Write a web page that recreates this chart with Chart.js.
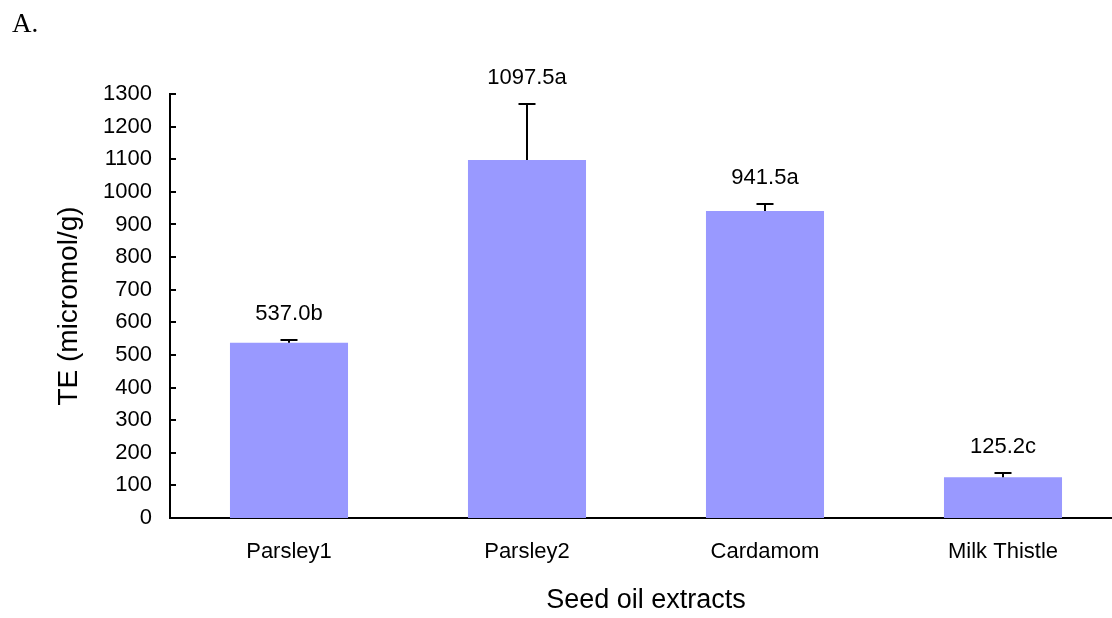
<!DOCTYPE html>
<html>
<head>
<meta charset="utf-8">
<title>TE of seed oil extracts</title>
<script src="https://cdn.jsdelivr.net/npm/chart.js@4/dist/chart.umd.min.js"></script>
<style>
  html, body { margin: 0; padding: 0; background: #fff; overflow: hidden; }
  #wrap { position: relative; width: 1112px; height: 618px; overflow: hidden; }
  #panel { position: absolute; left: 12px; top: 10px; font: 27px "Liberation Serif", "Times New Roman", serif; line-height: 27px; color: #000; }
  canvas { position: absolute; left: 0; top: 0; }
</style>
</head>
<body>
<div id="wrap">
  <canvas id="chart" width="1130" height="618"></canvas>
  <div id="panel">A.</div>
</div>
<script>
// Seed oil extracts and their Trolox-equivalent antioxidant capacity
const categories = ['Parsley1', 'Parsley2', 'Cardamom', 'Milk Thistle'];
const teValues = [537.0, 1097.5, 941.5, 125.2];
const teErrors = [9, 172, 21, 13];
const groupLetters = ['b', 'a', 'a', 'c'];
const yMin = 0;
const yMax = 1300;
const yStep = 100;

const FONT = '"Liberation Sans", Arial, sans-serif';

// upper error whiskers with a short cap
const errorBars = {
  id: 'errorBars',
  afterDatasetsDraw(chart) {
    const ctx = chart.ctx;
    const y = chart.scales.y;
    const meta = chart.getDatasetMeta(0);
    ctx.save();
    ctx.strokeStyle = '#000';
    ctx.lineWidth = 2;
    meta.data.forEach((bar, i) => {
      const top = y.getPixelForValue(teValues[i]);
      const cap = y.getPixelForValue(teValues[i] + teErrors[i]);
      ctx.beginPath();
      ctx.moveTo(bar.x, top);
      ctx.lineTo(bar.x, cap);
      ctx.moveTo(bar.x - 8.5, cap);
      ctx.lineTo(bar.x + 8.5, cap);
      ctx.stroke();
    });
    ctx.restore();
  }
};

// value + significance letter above each whisker
const valueLabels = {
  id: 'valueLabels',
  afterDatasetsDraw(chart) {
    const ctx = chart.ctx;
    const y = chart.scales.y;
    const meta = chart.getDatasetMeta(0);
    ctx.save();
    ctx.fillStyle = '#000';
    ctx.font = '22px ' + FONT;
    ctx.textAlign = 'center';
    ctx.textBaseline = 'middle';
    meta.data.forEach((bar, i) => {
      const cap = y.getPixelForValue(teValues[i] + teErrors[i]);
      ctx.fillText(teValues[i].toFixed(1) + groupLetters[i], bar.x, cap - 26);
    });
    ctx.restore();
  }
};

// tick marks pointing into the plot area on the value axis
const innerTicks = {
  id: 'innerTicks',
  afterDraw(chart) {
    const ctx = chart.ctx;
    const y = chart.scales.y;
    const x0 = chart.chartArea.left;
    ctx.save();
    ctx.strokeStyle = '#000';
    ctx.lineWidth = 2;
    y.ticks.forEach(t => {
      const py = Math.round(y.getPixelForValue(t.value));
      ctx.beginPath();
      ctx.moveTo(x0, py);
      ctx.lineTo(x0 + 6, py);
      ctx.stroke();
    });
    ctx.restore();
  }
};

new Chart(document.getElementById('chart'), {
  type: 'bar',
  data: {
    labels: categories,
    datasets: [{
      data: teValues,
      backgroundColor: '#9999FF',
      borderWidth: 0,
      barPercentage: 0.496,
      categoryPercentage: 1
    }]
  },
  options: {
    responsive: false,
    animation: false,
    devicePixelRatio: 1,
    layout: { padding: { top: 94, right: 8, bottom: 0, left: 0 } },
    plugins: { legend: { display: false }, tooltip: { enabled: false } },
    scales: {
      x: {
        grid: { display: false, drawTicks: false },
        border: { display: true, color: '#000', width: 2 },
        ticks: { color: '#000', font: { family: FONT, size: 22 }, padding: 21, maxRotation: 0, autoSkip: false },
        title: { display: true, text: 'Seed oil extracts', color: '#000', font: { family: FONT, size: 27 }, padding: { top: 0, bottom: 1 } },
        afterFit(s) { s.height = 100; }
      },
      y: {
        min: yMin,
        max: yMax,
        grid: { display: false, drawTicks: false },
        border: { display: true, color: '#000', width: 2 },
        ticks: { stepSize: yStep, color: '#000', font: { family: FONT, size: 22 }, padding: 18, callback: v => String(v) },
        title: { display: true, text: 'TE (micromol/g)', color: '#000', font: { family: FONT, size: 28 }, padding: { top: 52, bottom: 0 } },
        afterFit(s) { s.width = 170; }
      }
    }
  },
  plugins: [errorBars, valueLabels, innerTicks]
});
</script>
</body>
</html>
